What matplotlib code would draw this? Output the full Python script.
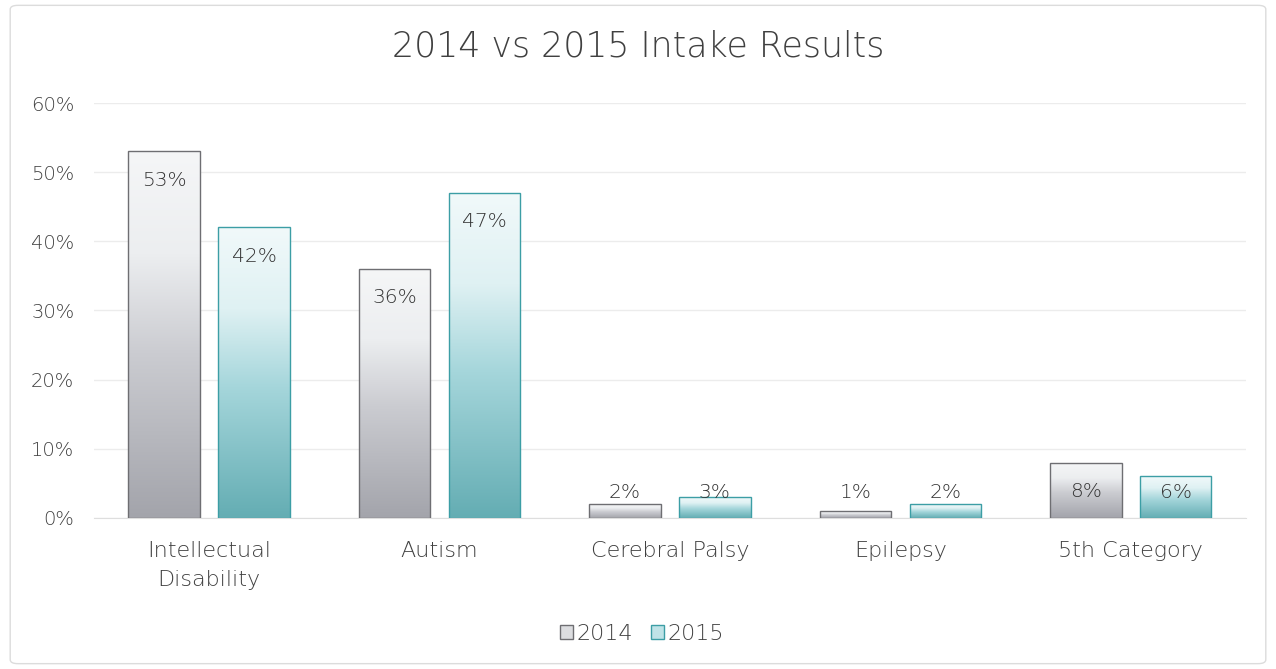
import matplotlib.pyplot as plt
import numpy as np
from matplotlib.colors import LinearSegmentedColormap
from matplotlib.patches import Patch, FancyBboxPatch

plt.rcParams['font.family'] = ['DejaVu Sans']
plt.rcParams['font.weight'] = 'light'

categories = ['Intellectual\nDisability', 'Autism', 'Cerebral Palsy', 'Epilepsy', '5th Category']
series = ['2014', '2015']
v2014 = [53, 36, 2, 1, 8]
v2015 = [42, 47, 3, 2, 6]
yticks = [0, 10, 20, 30, 40, 50, 60]

gray_cmap = LinearSegmentedColormap.from_list(
    'g', [(0, '#a3a4ab'), (0.45, '#cbccd1'), (0.72, '#eceef0'), (1, '#f5f6f7')])
teal_cmap = LinearSegmentedColormap.from_list(
    't', [(0, '#64adb3'), (0.45, '#a5d6db'), (0.72, '#dff1f3'), (1, '#f1f9fa')])

fig = plt.figure(figsize=(12.76, 6.69), dpi=100)
ax = fig.add_axes([0.0735, 0.226, 0.903, 0.62])

# outer chart border
fig.patches.append(FancyBboxPatch((0.008, 0.008), 0.984, 0.984, boxstyle='round,pad=0,rounding_size=0.006',
                                  transform=fig.transFigure, fill=False, edgecolor='#dcdcdc', lw=1.0))

x = np.arange(len(categories))
w = 0.31
off = 0.195
grad = np.linspace(1, 0, 256).reshape(-1, 1)

for vals, dx, cmap, ec in [(v2014, -off, gray_cmap, '#6e6e72'), (v2015, off, teal_cmap, '#3c9ea5')]:
    bars = ax.bar(x + dx, vals, w, facecolor='none', edgecolor=ec, lw=1.0, zorder=3)
    for b, v in zip(bars, vals):
        x0 = b.get_x()
        im = ax.imshow(grad, cmap=cmap, aspect='auto', extent=(x0, x0 + w, 0, v), zorder=2,
                       vmin=0, vmax=1)
        im.set_clip_path(b)
        ly = max(v - 4.2, 3.7)
        ax.text(x0 + w / 2, ly, f'{v}%', ha='center', va='center', fontsize=14.5,
                color='#333333', zorder=4)

ax.set_xlim(-0.5, len(categories) - 0.5)
ax.set_ylim(0, 60)
ax.set_yticks(yticks)
ax.set_yticklabels([f'{t}%' for t in yticks], fontsize=14, color='#404040')
ax.set_xticks(x)
ax.set_xticklabels(categories, fontsize=16, color='#404040', linespacing=1.55)
ax.tick_params(length=0)
ax.tick_params(axis='x', pad=17)
ax.tick_params(axis='y', pad=14)
ax.grid(axis='y', color='#ececec', lw=1.0, zorder=0)
for s in ['top', 'right', 'left']:
    ax.spines[s].set_visible(False)
ax.spines['bottom'].set_color('#dedede')

fig.text(0.5, 0.93, '2014 vs 2015 Intake Results', ha='center', va='center', fontsize=25, color='#404040')

handles = [Patch(facecolor='#dcdde0', edgecolor='#6e6e72', label=series[0]),
           Patch(facecolor='#bfe3e7', edgecolor='#3c9ea5', label=series[1])]
fig.legend(handles=handles, loc='center', bbox_to_anchor=(0.503, 0.052), ncol=2, frameon=False,
           fontsize=16, handlelength=0.6, handleheight=0.6, handletextpad=0.15, columnspacing=0.8,
           labelcolor='#404040')

fig.savefig('out.png', dpi=100)
